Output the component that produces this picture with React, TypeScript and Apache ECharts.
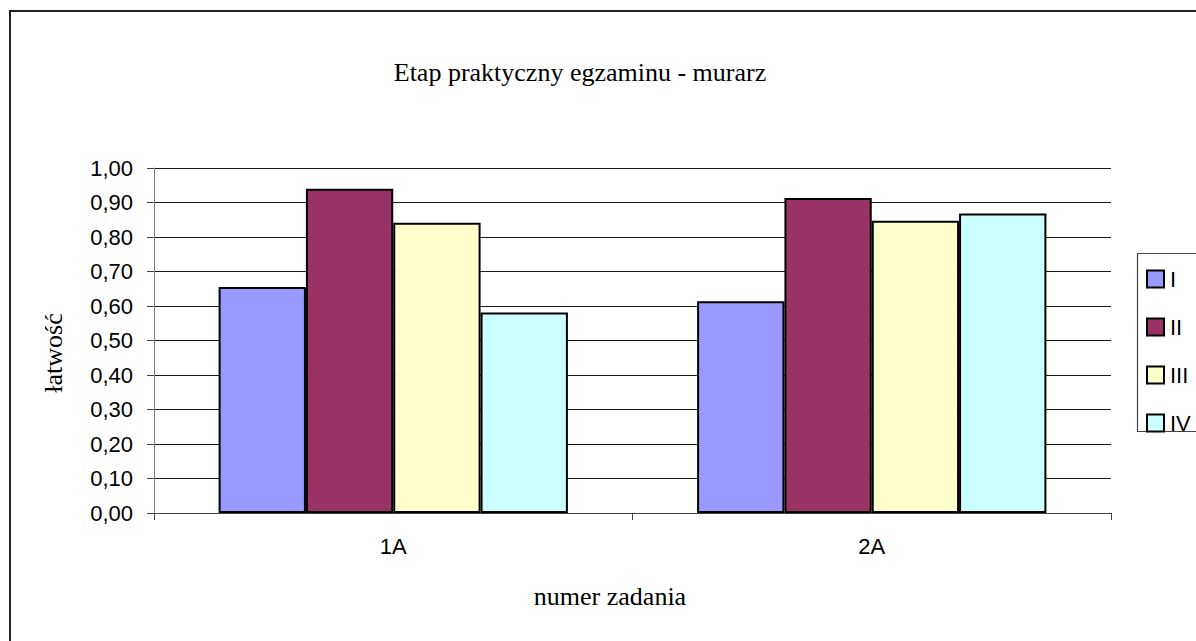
import React, { useEffect, useRef } from "react";
import * as echarts from "echarts";

const categories = ["1A", "2A"];
const seriesNames = ["I", "II", "III", "IV"];
const seriesColors = ["#9999FF", "#993366", "#FFFFCC", "#CCFFFF"];
const valuesI = [0.655, 0.614];
const valuesII = [0.94, 0.913];
const valuesIII = [0.841, 0.847];
const valuesIV = [0.581, 0.868];
const titleText = "Etap praktyczny egzaminu - murarz";
const yName = "łatwość";
const xName = "numer zadania";

const SERIF = "'Liberation Serif', 'Times New Roman', serif";
const SANS = "'Liberation Sans', Arial, sans-serif";

export default function App() {
  const ref = useRef<HTMLDivElement>(null);
  useEffect(() => {
    if (!ref.current) return;
    const chart = echarts.init(ref.current, null, { renderer: "svg" });
    const allValues = [valuesI, valuesII, valuesIII, valuesIV];
    chart.setOption({
      animation: false,
      backgroundColor: "#ffffff",
      grid: { left: 154, top: 168, width: 957, height: 345, containLabel: false },
      legend: {
        data: seriesNames,
        orient: "vertical",
        left: 1146,
        top: 268,
        padding: 0,
        itemWidth: 17,
        itemHeight: 17,
        itemGap: 26,
        icon: "rect",
        textStyle: { fontFamily: SANS, fontSize: 22, color: "#000", lineHeight: 17, padding: [0, 0, 0, 1] },
      },
      xAxis: {
        type: "category",
        data: categories,
        axisLine: { show: true, lineStyle: { color: "#404040", width: 1 } },
        axisTick: { show: true, length: 7, lineStyle: { color: "#404040" } },
        axisLabel: { fontFamily: SANS, fontSize: 22, color: "#000", margin: 22 },
        splitLine: { show: false },
      },
      yAxis: {
        type: "value",
        min: 0,
        max: 1,
        interval: 0.1,
        axisLine: { show: true, lineStyle: { color: "#808080", width: 1 } },
        axisTick: { show: true, length: 7, lineStyle: { color: "#404040" } },
        axisLabel: {
          fontFamily: SANS,
          fontSize: 22,
          color: "#000",
          margin: 21,
          formatter: (v: number) => v.toFixed(2).replace(".", ","),
        },
        splitLine: { show: true, lineStyle: { color: "#1a1a1a", width: 1 } },
      },
      series: seriesNames.map((name, i) => ({
        name,
        type: "bar",
        data: allValues[i],
        barGap: "0%",
        barCategoryGap: "27%",
        itemStyle: { color: seriesColors[i], borderColor: "#000", borderWidth: 2 },
      })),
      graphic: [
        {
          type: "rect",
          shape: { x: 10, y: 11, width: 1400, height: 900 },
          style: { fill: "none", stroke: "#222", lineWidth: 2 },
          silent: true,
        },
        {
          type: "rect",
          shape: { x: 1137.5, y: 253.5, width: 120, height: 178 },
          style: { fill: "none", stroke: "#444", lineWidth: 1.2 },
          silent: true,
        },
        {
          type: "text",
          x: 580,
          y: 72,
          style: {
            text: titleText,
            fontFamily: SERIF,
            fontSize: 26,
            fill: "#000",
            textAlign: "center",
            textVerticalAlign: "middle",
          },
        },
        {
          type: "text",
          x: 610,
          y: 596,
          style: {
            text: xName,
            fontFamily: SERIF,
            fontSize: 26,
            fill: "#000",
            textAlign: "center",
            textVerticalAlign: "middle",
          },
        },
        {
          type: "text",
          x: 53,
          y: 353,
          rotation: Math.PI / 2,
          style: {
            text: yName,
            fontFamily: SERIF,
            fontSize: 26,
            fill: "#000",
            textAlign: "center",
            textVerticalAlign: "middle",
          },
        },
      ],
    });
    return () => chart.dispose();
  }, []);
  return (
    <div
      ref={ref}
      style={{ position: "fixed", left: 0, top: 0, width: 1196, height: 641, background: "#fff" }}
    />
  );
}
